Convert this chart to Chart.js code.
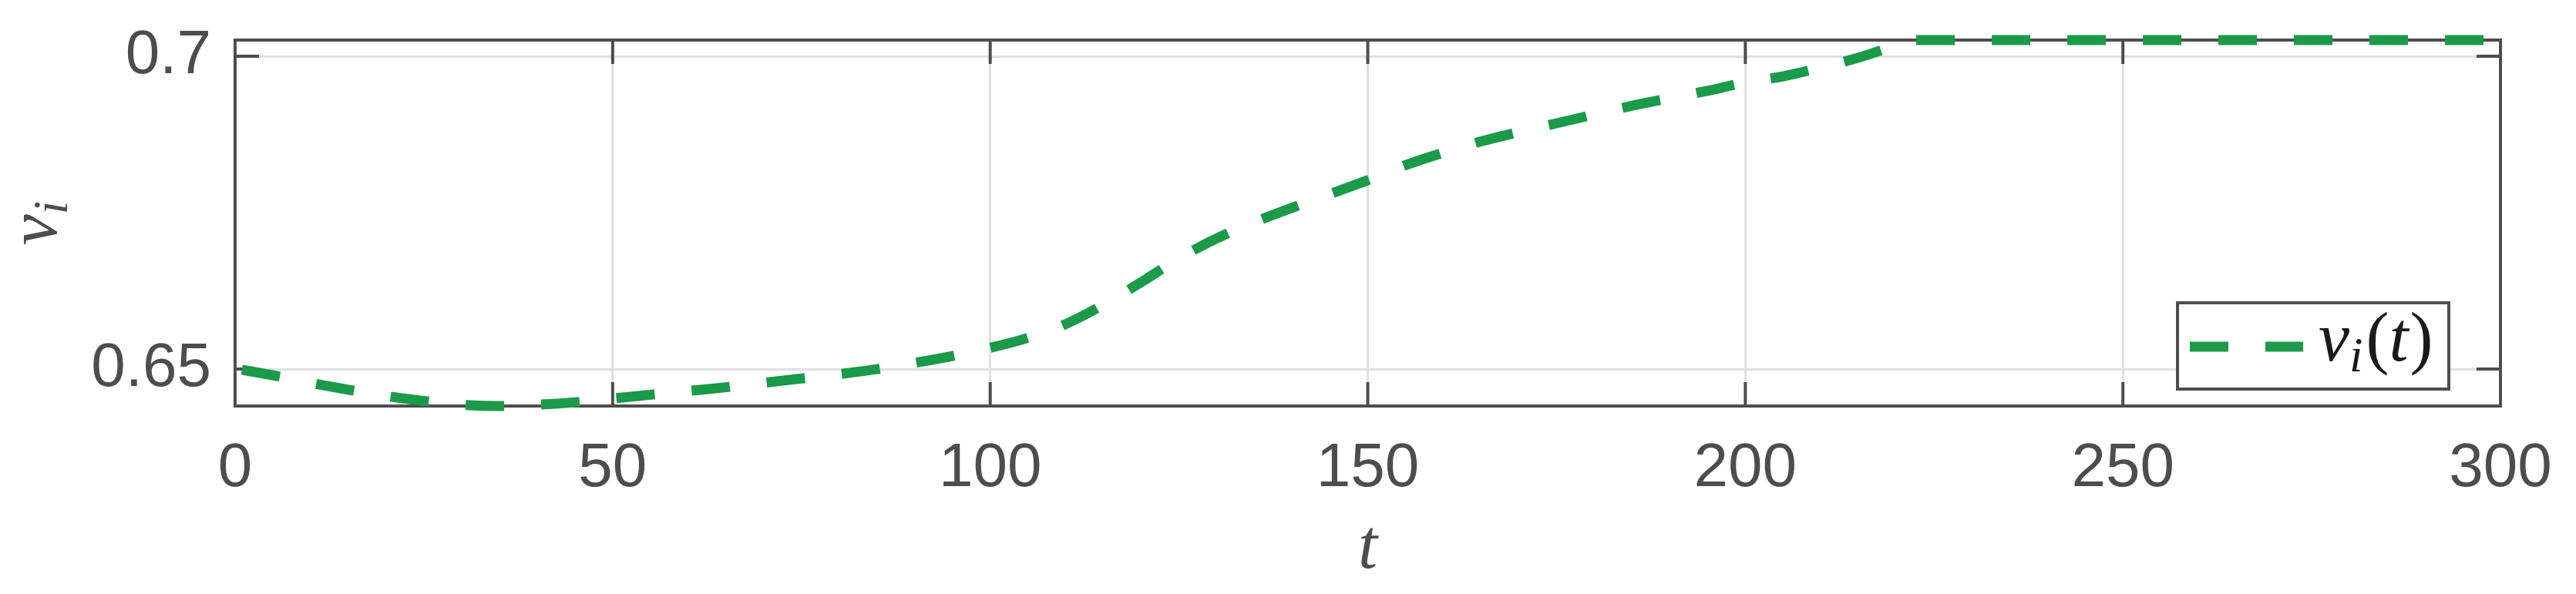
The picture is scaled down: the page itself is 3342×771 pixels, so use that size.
<!DOCTYPE html>
<html>
<head>
<meta charset="utf-8">
<script src="https://cdn.jsdelivr.net/npm/chart.js@4.4.1/dist/chart.umd.min.js"></script>
<style>
  html, body { margin: 0; padding: 0; background: #fff; }
  #wrap { width: 3342px; height: 771px; }
</style>
</head>
<body>
<div id="wrap"><canvas id="chart" width="3342" height="771"></canvas></div>
<script>
// data
var tValues = [0, 5, 10, 15, 20, 25, 30, 35, 40, 45, 50, 55, 60, 65, 70, 75, 80, 85, 90, 95,
  100, 105, 110, 115, 120, 125, 130, 135, 140, 145, 150, 155, 160, 165, 170, 175, 180, 185,
  190, 195, 200, 205, 210, 215, 220, 222, 230, 250, 275, 300];
var vValues = [0.6501, 0.6490, 0.6478, 0.6467, 0.6457, 0.6449, 0.6443, 0.6441, 0.6443, 0.6447,
  0.6453, 0.6459, 0.6465, 0.6471, 0.6478, 0.6485, 0.6492, 0.6500, 0.6510, 0.6521,
  0.6534, 0.6550, 0.6572, 0.6603, 0.6639, 0.6677, 0.6709, 0.6735, 0.6758, 0.6780,
  0.6802, 0.6826, 0.6846, 0.6864, 0.6879, 0.6893, 0.6907, 0.6921, 0.6933, 0.6945,
  0.6958, 0.6968, 0.6982, 0.6998, 0.7018, 0.7026, 0.7026, 0.7026, 0.7026, 0.7026];
var xTicks = [0, 50, 100, 150, 200, 250, 300];
var yTicks = [0.65, 0.7];
var yTickLabels = ['0.65', '0.7'];

var axisColor = '#4d4d4d';
var lineColor = '#1b9a4a';
var tickFont = { family: "'Liberation Sans', Arial, sans-serif", size: 80 };
var mathFont = "italic 90px 'Liberation Serif', 'DejaVu Serif', serif";
var subFont = "italic 63px 'Liberation Serif', 'DejaVu Serif', serif";

var points = tValues.map(function (t, i) { return { x: t, y: vValues[i] }; });

// box, inward ticks, titles and legend
var framePlugin = {
  id: 'frame',
  beforeDatasetsDraw: function (chart) {
    var ctx = chart.ctx, a = chart.chartArea;
    var xs = chart.scales.x, ys = chart.scales.y;
    var len = 31;
    ctx.save();
    ctx.strokeStyle = axisColor;
    ctx.lineWidth = 4;
    ctx.beginPath();
    ctx.rect(a.left, a.top, a.right - a.left, a.bottom - a.top);
    xTicks.forEach(function (v) {
      var px = xs.getPixelForValue(v);
      ctx.moveTo(px, a.bottom); ctx.lineTo(px, a.bottom - len);
      ctx.moveTo(px, a.top); ctx.lineTo(px, a.top + len);
    });
    yTicks.forEach(function (v) {
      var py = ys.getPixelForValue(v);
      ctx.moveTo(a.left, py); ctx.lineTo(a.left + len, py);
      ctx.moveTo(a.right, py); ctx.lineTo(a.right - len, py);
    });
    ctx.stroke();
    ctx.restore();
  },
  afterDraw: function (chart) {
    var ctx = chart.ctx, a = chart.chartArea;
    var ds = chart.data.datasets[0];
    ctx.save();
    ctx.fillStyle = axisColor;
    ctx.font = mathFont;
    ctx.textAlign = 'center';
    ctx.textBaseline = 'alphabetic';
    ctx.fillText('t', (a.left + a.right) / 2, 737);

    ctx.translate(73, (a.top + a.bottom) / 2);
    ctx.rotate(-Math.PI / 2);
    ctx.textAlign = 'left';
    ctx.font = mathFont;
    var vw = ctx.measureText('v').width;
    ctx.font = subFont;
    var iw = ctx.measureText('i').width;
    var x0 = -(vw + iw) / 2;
    ctx.font = mathFont;
    ctx.fillText('v', x0, 0);
    ctx.font = subFont;
    ctx.fillText('i', x0 + vw, 14);
    ctx.restore();

    // legend
    var bx = 2825, by = 393, bw = 352, bh = 112;
    ctx.save();
    ctx.fillStyle = '#fff';
    ctx.fillRect(bx, by, bw, bh);
    ctx.strokeStyle = axisColor;
    ctx.lineWidth = 4;
    ctx.strokeRect(bx, by, bw, bh);
    ctx.strokeStyle = ds.borderColor;
    ctx.lineWidth = ds.borderWidth;
    ctx.setLineDash(ds.borderDash);
    ctx.beginPath();
    ctx.moveTo(2841, 450); ctx.lineTo(2988, 450);
    ctx.stroke();
    ctx.setLineDash([]);
    ctx.fillStyle = '#1a1a1a';
    ctx.textBaseline = 'alphabetic';
    ctx.textAlign = 'left';
    var tx = 3008;
    ctx.font = mathFont;
    ctx.fillText('v', tx, 468);
    tx += ctx.measureText('v').width;
    ctx.font = subFont;
    ctx.fillText('i', tx, 482);
    tx += ctx.measureText('i').width + 4;
    ctx.font = "90px 'Liberation Serif', 'DejaVu Serif', serif";
    ctx.fillText('(', tx, 468);
    tx += ctx.measureText('(').width;
    ctx.font = mathFont;
    ctx.fillText('t', tx, 468);
    tx += ctx.measureText('t').width + 2;
    ctx.font = "90px 'Liberation Serif', 'DejaVu Serif', serif";
    ctx.fillText(')', tx, 468);
    ctx.restore();
  }
};

var chart = new Chart(document.getElementById('chart').getContext('2d'), {
  type: 'line',
  data: {
    datasets: [{
      label: 'v_i(t)',
      data: points,
      borderColor: lineColor,
      borderWidth: 13,
      borderDash: [50, 48],
      borderDashOffset: 89,
      borderCapStyle: 'butt',
      pointRadius: 0,
      fill: false,
      cubicInterpolationMode: 'monotone',
      clip: false
    }]
  },
  options: {
    responsive: false,
    animation: false,
    layout: { autoPadding: false, padding: { left: 0, right: 98, top: 52, bottom: 0 } },
    plugins: { legend: { display: false }, tooltip: { enabled: false } },
    scales: {
      x: {
        type: 'linear',
        min: 0,
        max: 300,
        afterBuildTicks: function (scale) {
          scale.ticks = xTicks.map(function (v) { return { value: v }; });
        },
        afterFit: function (scale) {
          scale.height = 244;
          scale.paddingLeft = 0; scale.paddingRight = 0;
        },
        ticks: { font: tickFont, color: axisColor, padding: 34, maxRotation: 0 },
        grid: { color: '#e0e0e0', lineWidth: 3, drawTicks: false },
        border: { display: false }
      },
      y: {
        type: 'linear',
        min: 0.6441,
        max: 0.7026,
        afterBuildTicks: function (scale) {
          scale.ticks = yTicks.map(function (v) { return { value: v }; });
        },
        afterFit: function (scale) {
          scale.width = 305;
          scale.paddingTop = 0; scale.paddingBottom = 0;
        },
        ticks: {
          font: tickFont, color: axisColor, padding: 31,
          callback: function (value) { return yTickLabels[yTicks.indexOf(value)]; }
        },
        grid: { color: '#e0e0e0', lineWidth: 3, drawTicks: false },
        border: { display: false }
      }
    }
  },
  plugins: [framePlugin]
});
</script>
</body>
</html>
